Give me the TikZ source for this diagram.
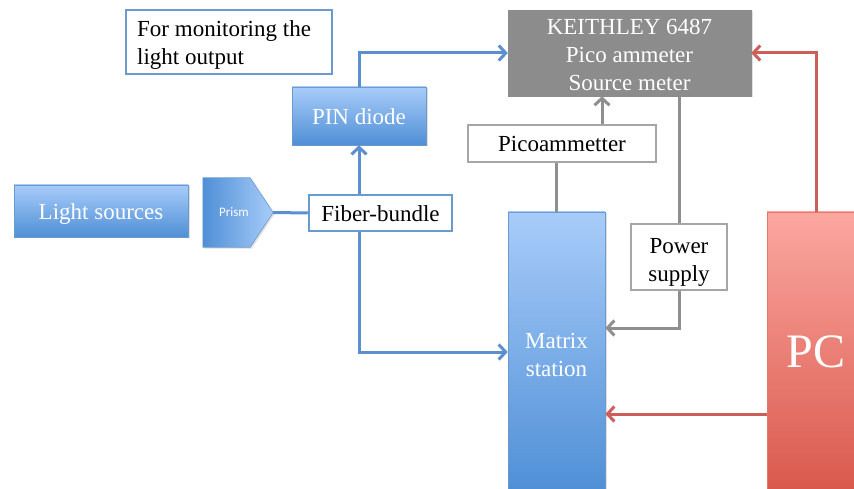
\documentclass[tikz,border=0pt]{standalone}
\usepackage{fontspec}
\setmainfont{Liberation Serif}
\newfontfamily\prismfont{Carlito}
\usetikzlibrary{arrows.meta,shadows,calc}
\definecolor{bluetop}{HTML}{A8CCF9}
\definecolor{bluebot}{HTML}{4F8FD6}
\definecolor{blueline}{HTML}{5B8FCF}
\definecolor{blueborder}{HTML}{6A9BD0}
\definecolor{grayfill}{HTML}{8C8C8C}
\definecolor{grayline}{HTML}{8F8F8F}
\definecolor{grayborder}{HTML}{A6A6A6}
\definecolor{redtop}{HTML}{FBA7A0}
\definecolor{redbot}{HTML}{D9584C}
\definecolor{redline}{HTML}{CC5F5A}
\tikzset{
  shad/.style={drop shadow={opacity=0.25,shadow xshift=1.5pt,shadow yshift=-1.5pt}},
  bigfont/.style={font=\fontsize{23}{28}\selectfont},
  oneline/.style={text height=22pt,text depth=5pt},
  bluebox/.style={shad,top color=bluetop,bottom color=bluebot,draw=blueborder,line width=0.6pt,
    text=white,bigfont,inner sep=0pt,align=center},
  wbox/.style={fill=white,draw=blueborder,line width=2.5pt,text=black,
    bigfont,inner sep=0pt,align=center},
  gbox/.style={fill=white,draw=grayborder,line width=2.5pt,text=black,
    bigfont,inner sep=0pt,align=center},
  bconn/.style={draw=blueline,line width=3pt},
  gconn/.style={draw=grayline,line width=3pt},
  rconn/.style={draw=redline,line width=3pt},
  tip/.style={-{Straight Barb[length=7pt,width=15pt,line width=3pt]}},
}
\begin{document}
\begin{tikzpicture}[x=1pt,y=-1pt]
\useasboundingbox (0,0) rectangle (854,489);
% nodes
\node[bluebox,oneline,minimum width=174pt,minimum height=52pt] (light) at (101,211) {Light sources};
\node[minimum width=70pt,minimum height=69pt,inner sep=0pt] (prism) at (238,212.5) {};
\path[shad,left color=bluebot,right color=bluetop,draw=blueborder,line width=0.6pt]
  (prism.north west) -- ([xshift=-23pt]prism.north east) -- (prism.east)
  -- ([xshift=-23pt]prism.south east) -- (prism.south west) -- cycle;
\node[text=white,font=\prismfont\fontsize{13}{15}\selectfont,inner sep=0pt] (prismlabel) at ([xshift=-4pt]prism.center) {Prism};
\node[wbox,oneline,minimum width=143pt,minimum height=36pt] (fiber) at (380.5,213) {Fiber-bundle};
\node[bluebox,oneline,minimum width=134pt,minimum height=58pt] (pin) at (359,116) {PIN diode};
\node[wbox,minimum width=206pt,minimum height=64pt] (mon) at (229,42) {};
\node[bigfont,align=left,anchor=west,inner sep=0pt] (montext) at (137,45)
  {For monitoring the\\light output};
\node[shad,fill=grayfill,draw=grayfill,minimum width=243pt,minimum height=86pt,inner sep=0pt,
  text=white,align=center,bigfont] (keith) at (629.5,53)
  {\rule{0pt}{20pt}KEITHLEY 6487\\Pico ammeter\\Source meter};
\node[gbox,oneline,minimum width=188pt,minimum height=37pt] (pico) at (562,143.5) {Picoammetter};
\node[gbox,minimum width=96pt,minimum height=66pt] (power) at (679,257) {\rule{0pt}{26pt}Power\\supply};
\node[bluebox,minimum width=97pt,minimum height=280pt] (matrix) at (556.5,352) {\rule{0pt}{22pt}Matrix\\station};
\node[shad,top color=redtop,bottom color=redbot,draw=redbot!80,line width=0.6pt,
  minimum width=98pt,minimum height=280pt,inner sep=0pt,text=white,
  font=\fontsize{48}{50}\selectfont] (pc) at (816,352) {PC};
% connectors
\draw[bconn] (prism.east) -- (fiber.west);
\draw[bconn,tip] (fiber.north -| pin.south) -- (pin.south);
\draw[bconn,tip] (pin.north) |- (keith.west);
\draw[bconn,tip] (fiber.south -| pin.south) |- (matrix.west);
\draw[gconn] (matrix.north) -- (matrix.north |- pico.south);
\draw[gconn,tip] ([xshift=40pt]pico.north) -- ([xshift=40pt]pico.north |- keith.south);
\draw[gconn] (keith.south -| power.north) -- (power.north);
\draw[gconn,tip] (power.south) |- ([yshift=24pt]matrix.east);
\draw[rconn,tip] (pc.north) |- (keith.east);
\draw[rconn,tip] ([yshift=-62pt]pc.west) -- ([yshift=-62pt]matrix.east);
\end{tikzpicture}
\end{document}
